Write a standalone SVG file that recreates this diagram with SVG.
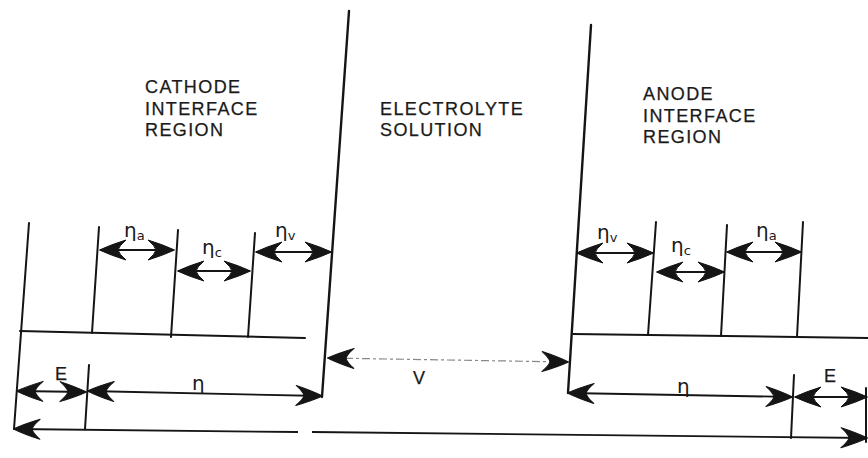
<svg xmlns="http://www.w3.org/2000/svg" width="868" height="458" viewBox="0 0 868 458">
<style>
.ln{stroke:#151515;stroke-width:2;fill:none;stroke-linecap:round}
.el{stroke:#151515;stroke-width:2.4;fill:none;stroke-linecap:round}
.ar{stroke:#151515;stroke-width:1.8;fill:none;marker-start:url(#ah);marker-end:url(#ah)}
.arr{stroke:#151515;stroke-width:1.8;fill:none;marker-end:url(#ah)}
.arl{stroke:#151515;stroke-width:1.8;fill:none;marker-start:url(#ah)}
.dash{stroke:#888;stroke-width:1.2;fill:none;stroke-dasharray:8 3 3 3;marker-start:url(#ah);marker-end:url(#ah)}
.t{font-family:"Liberation Sans",Arial,sans-serif;font-size:18px;fill:#1a1a1a;letter-spacing:1.4px;stroke:#1a1a1a;stroke-width:0.25}
.g{font-family:"DejaVu Sans","Liberation Sans",sans-serif;font-size:20px;fill:#1a1a1a}
.s{font-size:13px}
</style>
<defs>
<marker id="ah" viewBox="-28 -11 29 22" refX="0" refY="0" markerWidth="29" markerHeight="22" markerUnits="userSpaceOnUse" orient="auto-start-reverse">
<path d="M0.5,0 Q-10,-5 -26,-10 Q-19,-4 -18,0 Q-19,4 -26,10 Q-10,5 0.5,0 Z" fill="#151515" stroke="#151515" stroke-width="1" stroke-linejoin="round"/>
</marker>
</defs>

<g id="labels">
<text class="t" x="145" y="93">CATHODE</text>
<text class="t" x="145" y="115">INTERFACE</text>
<text class="t" x="145" y="136">REGION</text>
<text class="t" x="380" y="115">ELECTROLYTE</text>
<text class="t" x="380" y="136">SOLUTION</text>
<text class="t" x="643" y="100">ANODE</text>
<text class="t" x="643" y="122">INTERFACE</text>
<text class="t" x="643" y="143">REGION</text>
</g>

<g id="cathode">
<line class="el" x1="349" y1="11" x2="322" y2="397"/>
<line class="ln" x1="29" y1="223" x2="14" y2="429"/>
<line class="ln" x1="99" y1="227" x2="92" y2="333"/>
<line class="ln" x1="178" y1="230" x2="171" y2="337"/>
<line class="ln" x1="255" y1="233" x2="248" y2="337"/>
<line class="ln" x1="20" y1="331" x2="305" y2="338"/>
<line class="ln" x1="89" y1="365" x2="85" y2="429"/>
</g>

<g id="anode">
<line class="el" x1="591" y1="25" x2="568" y2="393"/>
<line class="ln" x1="656" y1="222" x2="648" y2="335"/>
<line class="ln" x1="727" y1="225" x2="721" y2="336"/>
<line class="ln" x1="803" y1="222" x2="797" y2="337"/>
<line class="ln" x1="573" y1="334" x2="868" y2="338"/>
<line class="ln" x1="794" y1="375" x2="791" y2="438"/>
<line class="ln" x1="866" y1="388" x2="866" y2="442"/>
</g>

<g id="connectors">
<path class="ar" d="M100,250 L174,250"/>
<path class="ar" d="M178,271 L250,271"/>
<path class="ar" d="M256,252 L331,252"/>
<path class="ar" d="M577,253 L653,253"/>
<path class="ar" d="M657,272 L724,272"/>
<path class="ar" d="M727,252 L801,252"/>
<path class="ar" d="M17,391 L86,392"/>
<path class="ar" d="M88,391 L322,396"/>
<path class="ar" d="M568,393 L792,397"/>
<path class="ar" d="M795,397 L867,397"/>
<path class="dash" d="M328,358 L568,362"/>
<path class="arl" d="M14,429 L298,432"/>
<path class="arr" d="M312,432 L867,438"/>
</g>

<g id="symbols">
<text class="g" x="124" y="237">η<tspan class="s" dy="3">a</tspan></text>
<text class="g" x="202" y="254">η<tspan class="s" dy="3">c</tspan></text>
<text class="g" x="275" y="237">η<tspan class="s" dy="3">v</tspan></text>
<text class="g" x="597" y="239">η<tspan class="s" dy="3">v</tspan></text>
<text class="g" x="671" y="252">η<tspan class="s" dy="3">c</tspan></text>
<text class="g" x="756" y="237">η<tspan class="s" dy="3">a</tspan></text>
<text class="g" x="192" y="390" font-size="16">η</text>
<text class="g" x="677" y="393" font-size="16">η</text>
<text class="t" x="55" y="380" font-size="17">E</text>
<text class="t" x="824" y="382" font-size="17">E</text>
<text class="t" x="413" y="384" font-size="17">V</text>
</g>
</svg>
